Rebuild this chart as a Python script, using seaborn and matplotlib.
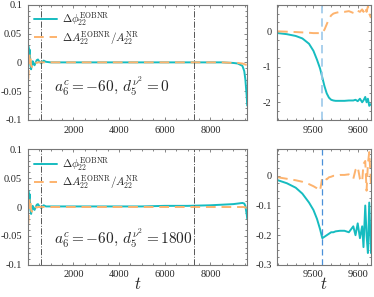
import numpy as np
import pandas as pd
import matplotlib
matplotlib.use("Agg")
import matplotlib.pyplot as plt
from matplotlib.ticker import MultipleLocator
import seaborn as sns

# ---- data ----
t_long = [0, 30, 60, 90, 120, 150, 180, 220, 260, 300, 350, 400, 450, 500, 550, 600, 650, 700, 800,
          1000, 2000, 3000, 4000, 5000, 6000, 7000, 8000, 8500, 9000, 9200, 9400, 9480, 9530, 9560, 9590, 9610]
phi_top = [0.005, 0.028, 0.015, 0.022, -0.005, -0.012, -0.004, 0.002, -0.003, -0.005, 0.0, 0.004, 0.005, 0.002,
           0.0, -0.002, 0.001, 0.003, 0.001, 0.0, 0.0, 0.0, 0.0, 0.0, 0.0, 0.0, 0.0, 0.0, -0.001, -0.002,
           -0.006, -0.015, -0.03, -0.045, -0.06, -0.075]
amp_top = [-0.03, -0.028, 0.0, 0.015, 0.01, -0.005, -0.008, -0.003, 0.0, 0.001, 0.0, -0.001, 0.0, 0.0,
           0.0, 0.0, 0.0, 0.0, 0.0, 0.0, 0.0, 0.0, 0.0, 0.0, 0.0, 0.0, 0.0, 0.0, -0.001, -0.001,
           -0.002, -0.003, -0.004, -0.004, -0.004, -0.004]
phi_bot = [0.005, 0.028, 0.015, 0.022, -0.005, -0.012, -0.004, 0.002, -0.003, -0.005, 0.0, 0.004, 0.005, 0.002,
           0.0, -0.002, 0.001, 0.003, 0.001, 0.001, 0.001, 0.001, 0.001, 0.001, 0.002, 0.002, 0.003, 0.004, 0.005,
           0.006, 0.007, 0.006, 0.002, -0.006, -0.013, -0.02]
amp_bot = [-0.03, -0.028, 0.0, 0.015, 0.01, -0.005, -0.008, -0.003, 0.0, 0.001, 0.0, -0.001, 0.0, 0.0,
           0.0, 0.0, 0.0, 0.0, 0.0, 0.0, 0.0, 0.0, 0.0, 0.0, 0.0, 0.0, 0.0, 0.0, 0.0, 0.0,
           0.0, 0.0, -0.001, -0.001, -0.001, -0.001]

t_zoom = [9420, 9440, 9460, 9475, 9490, 9500, 9508, 9515, 9520, 9525, 9530, 9535, 9540, 9545, 9550, 9560,
          9570, 9580, 9590, 9595, 9600, 9605, 9610, 9613, 9617, 9620, 9623, 9626, 9630]
phi_zoom_top = [-0.05, -0.08, -0.13, -0.2, -0.35, -0.55, -0.8, -1.05, -1.3, -1.55, -1.75, -1.87, -1.93, -1.95,
                -1.96, -1.96, -1.96, -1.95, -1.95, -1.93, -1.97, -1.9, -2.0, -1.95, -1.85, -2.0, -1.9, -2.1, -2.05]
amp_zoom_top = [0.0, -0.01, -0.02, -0.03, -0.04, -0.05, -0.05, -0.05, -0.04, 0.05, 0.2, 0.35, 0.45, 0.5,
                0.52, 0.55, 0.55, 0.57, 0.52, 0.5, 0.58, 0.55, 0.62, 0.55, 0.68, 0.55, 0.7, 0.5, 0.38]
phi_zoom_bot = [-0.015, -0.025, -0.04, -0.06, -0.09, -0.115, -0.145, -0.18, -0.21, -0.205, -0.2, -0.195, -0.19,
                -0.19, -0.187, -0.185, -0.185, -0.19, -0.17, -0.2, -0.16, -0.21, -0.17, -0.24, -0.1, -0.2, -0.26,
                -0.09, -0.26]
amp_zoom_bot = [-0.005, -0.01, -0.015, -0.02, -0.028, -0.035, -0.042, -0.05, -0.005, -0.005, -0.012, -0.005,
                -0.003, 0.0, 0.0, 0.003, 0.003, 0.005, -0.01, 0.02, 0.03, -0.01, -0.02, 0.04, 0.05, -0.05, 0.04,
                0.08, -0.03]

labels = [r"$\Delta\phi_{22}^{\rm EOBNR}$", r"$\Delta A_{22}^{\rm EOBNR}/A_{22}^{\rm NR}$"]
notes = [r"$a_6^c=-60,\, d_5^{\nu^2}=0$", r"$a_6^c=-60,\, d_5^{\nu^2}=1800$"]

sns.set_style("ticks")
plt.rcParams["font.family"] = ["Liberation Serif", "DejaVu Serif"]
plt.rcParams["mathtext.fontset"] = "cm"

cyan = "#16bcc0"
orange = "#fdb36e"

fig = plt.figure(figsize=(3.74, 2.97), dpi=100)
axL = [fig.add_axes([0.074, 0.596, 0.587, 0.388]), fig.add_axes([0.074, 0.108, 0.587, 0.39])]
axR = [fig.add_axes([0.741, 0.596, 0.251, 0.388]), fig.add_axes([0.741, 0.108, 0.251, 0.39])]

longs = [(phi_top, amp_top), (phi_bot, amp_bot)]
zooms = [(phi_zoom_top, amp_zoom_top), (phi_zoom_bot, amp_zoom_bot)]
note_y = [0.29, 0.23]

for i in range(2):
    ax = axL[i]
    df = pd.DataFrame({"t": t_long, "phi": longs[i][0], "amp": longs[i][1]})
    sns.lineplot(data=df, x="t", y="phi", ax=ax, color=cyan, lw=1.4, estimator=None, label=labels[0])
    sns.lineplot(data=df, x="t", y="amp", ax=ax, color=orange, lw=1.4, estimator=None, label=labels[1],
                 linestyle=(0, (5, 3)))
    ax.axvline(600, color="#555555", lw=0.7, ls="-.")
    ax.axvline(7300, color="#555555", lw=0.7, ls="-.")
    ax.set_xlim(0, 9610)
    ax.set_ylim(-0.1, 0.1)
    ax.set_yticks([-0.1, -0.05, 0, 0.05, 0.1])
    ax.set_yticklabels(["-0.1", "-0.05", "0", "0.05", "0.1"])
    ax.set_xticks([2000, 4000, 6000, 8000])
    ax.xaxis.set_minor_locator(MultipleLocator(500))
    ax.yaxis.set_minor_locator(MultipleLocator(0.01))
    ax.legend(loc="upper left", frameon=False, fontsize=8, handlelength=2.1, borderaxespad=0.25,
              labelspacing=0.05, handletextpad=0.4, borderpad=0.3)
    ax.text(0.12, note_y[i], notes[i], transform=ax.transAxes, fontsize=11, va="center")

    ax = axR[i]
    dz = pd.DataFrame({"t": t_zoom, "phi": zooms[i][0], "amp": zooms[i][1]})
    sns.lineplot(data=dz, x="t", y="phi", ax=ax, color=cyan, lw=1.4, estimator=None)
    sns.lineplot(data=dz, x="t", y="amp", ax=ax, color=orange, lw=1.4, estimator=None, linestyle=(0, (5, 3)))
    ax.set_xlim(9418, 9630)
    ax.set_xticks([9500, 9600])
    ax.xaxis.set_minor_locator(MultipleLocator(20))

axR[0].axvline(9520, color="#9cc8ea", lw=1.2, ls=(0, (5, 3)))
axR[1].axvline(9520, color="#4a90d9", lw=0.9, ls=(0, (5, 3)))
axR[0].set_ylim(-2.5, 0.75)
axR[0].set_yticks([-2, -1, 0])
axR[0].set_yticklabels(["-2", "-1", "0"])
axR[0].yaxis.set_minor_locator(MultipleLocator(0.25))
axR[1].set_ylim(-0.3, 0.09)
axR[1].set_yticks([-0.3, -0.2, -0.1, 0])
axR[1].set_yticklabels(["-0.3", "-0.2", "-0.1", "0"])
axR[1].yaxis.set_minor_locator(MultipleLocator(0.025))

for ax in axL + axR:
    ax.set_xlabel("")
    ax.set_ylabel("")
    for s in ax.spines.values():
        s.set_color("#777777")
        s.set_linewidth(0.8)
    ax.tick_params(which="both", direction="in", top=True, right=True, labelsize=7.5,
                   color="#555555", pad=4)
    ax.tick_params(which="major", length=2.5, width=0.5)
    ax.tick_params(which="minor", length=1.5, width=0.5)

axL[1].set_xlabel(r"$t$", fontsize=12, labelpad=-2)
axR[1].set_xlabel(r"$t$", fontsize=12, labelpad=-2)

fig.savefig("out.png", dpi=100)
